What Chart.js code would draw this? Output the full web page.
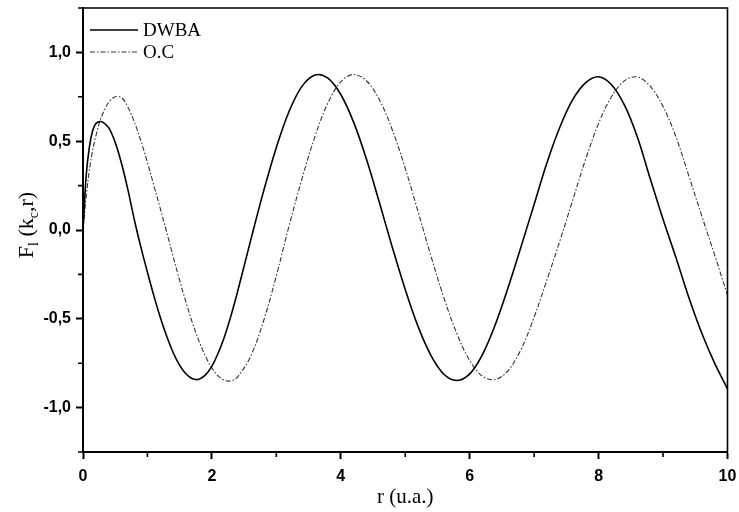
<!DOCTYPE html>
<html>
<head>
<meta charset="utf-8">
<script src="https://cdn.jsdelivr.net/npm/chart.js@4.4.0/dist/chart.umd.min.js"></script>
<style>
  html, body { margin: 0; padding: 0; background: #ffffff; }
  #wrap { width: 739px; height: 512px; }
</style>
</head>
<body>
<div id="wrap"><canvas id="c" width="739" height="512"></canvas></div>
<script>
// ---- Data ----
const rValues = [0, 0.05, 0.1, 0.15, 0.2, 0.25, 0.3, 0.4, 0.5, 0.6, 0.7, 0.8, 0.9, 1.0,
  1.1, 1.2, 1.3, 1.4, 1.5, 1.6, 1.7, 1.8, 1.9, 2.0, 2.1, 2.2, 2.3, 2.4, 2.6, 2.8, 3.0,
  3.2, 3.4, 3.6, 3.8, 4.0, 4.2, 4.4, 4.6, 4.8, 5.0, 5.2, 5.4, 5.6, 5.8, 6.0, 6.2, 6.4,
  6.6, 6.8, 7.0, 7.2, 7.4, 7.6, 7.8, 8.0, 8.2, 8.4, 8.6, 8.8, 9.0, 9.2, 9.4, 9.6, 9.8, 10.0];

const dwbaValues = [0, 0.31, 0.47, 0.56, 0.60, 0.61, 0.609, 0.575, 0.493, 0.372, 0.222, 0.052, -0.099, -0.238,
  -0.371, -0.493, -0.600, -0.691, -0.762, -0.811, -0.838, -0.840, -0.816, -0.766, -0.691, -0.595, -0.478, -0.345, -0.060, 0.216, 0.465,
  0.670, 0.810, 0.873, 0.855, 0.763, 0.606, 0.397, 0.153, -0.098, -0.335, -0.544, -0.707, -0.812, -0.847, -0.81, -0.70, -0.53,
  -0.32, -0.09, 0.145, 0.38, 0.58, 0.735, 0.83, 0.863, 0.818, 0.704, 0.525, 0.29, 0.06, -0.155, -0.38, -0.58, -0.75, -0.894];

const ocValues = [0, 0.19, 0.34, 0.45, 0.53, 0.60, 0.65, 0.72, 0.75, 0.745, 0.69, 0.605, 0.50, 0.38,
  0.25, 0.12, -0.014, -0.151, -0.284, -0.409, -0.525, -0.626, -0.711, -0.777, -0.823, -0.847, -0.849, -0.827, -0.712, -0.514, -0.258,
  0.027, 0.291, 0.528, 0.715, 0.835, 0.876, 0.839, 0.732, 0.563, 0.347, 0.102, -0.148, -0.382, -0.583, -0.735, -0.824, -0.842,
  -0.79, -0.67, -0.49, -0.28, -0.06, 0.17, 0.40, 0.60, 0.75, 0.84, 0.862, 0.81, 0.695, 0.525, 0.305, 0.08, -0.14, -0.367];

const seriesLabels = ["DWBA", "O.C"];
const xTickValues = [0, 2, 4, 6, 8, 10];
const xMinorTicks = [1, 3, 5, 7, 9];
const yTickValues = [-1.0, -0.5, 0.0, 0.5, 1.0];
const yMinorTicks = [-1.25, -0.75, -0.25, 0.25, 0.75, 1.25];
const xTitle = "r (u.a.)";

// ---- Chart ----
const PLOT_LEFT = 83, PLOT_RIGHT = 727.5, PLOT_TOP = 8, PLOT_BOTTOM = 452;

const decor = {
  id: 'decor',
  afterDraw(chart) {
    const ctx = chart.ctx;
    const a = chart.chartArea;
    const xs = chart.scales.x, ys = chart.scales.y;
    ctx.save();
    // top and right frame
    ctx.strokeStyle = '#000';
    ctx.lineWidth = 1.6;
    ctx.beginPath();
    ctx.moveTo(a.left - 1, a.top);
    ctx.lineTo(a.right, a.top);
    ctx.lineTo(a.right, a.bottom);
    ctx.stroke();
    // minor ticks
    ctx.lineWidth = 1.6;
    ctx.beginPath();
    xMinorTicks.forEach(v => {
      const px = xs.getPixelForValue(v);
      ctx.moveTo(px, a.bottom);
      ctx.lineTo(px, a.bottom + 5);
    });
    yMinorTicks.forEach(v => {
      const py = ys.getPixelForValue(v);
      ctx.moveTo(a.left, py);
      ctx.lineTo(a.left - 5, py);
    });
    ctx.stroke();

    // y-axis title F_l (k_c,r), rotated
    ctx.translate(25, 225);
    ctx.rotate(-Math.PI / 2);
    ctx.fillStyle = '#000';
    ctx.textBaseline = 'alphabetic';
    const big = '22px "Liberation Serif", "Times New Roman", serif';
    const small = '14px "Liberation Serif", "Times New Roman", serif';
    const parts = [
      { t: 'F', f: big, dy: 0 },
      { t: 'l', f: small, dy: 5 },
      { t: ' (k', f: big, dy: 0 },
      { t: 'c', f: small, dy: 5 },
      { t: ',r)', f: big, dy: 0 }
    ];
    let total = 0;
    parts.forEach(p => { ctx.font = p.f; p.w = ctx.measureText(p.t).width; total += p.w; });
    let x0 = -total / 2;
    parts.forEach(p => { ctx.font = p.f; ctx.fillText(p.t, x0, 8 + p.dy); x0 += p.w; });
    ctx.restore();

    // legend inside plot, top-left
    ctx.save();
    const ds = chart.data.datasets;
    const rows = [a.top + 22, a.top + 44];
    ds.forEach((d, i) => {
      ctx.strokeStyle = d.borderColor;
      ctx.lineWidth = d.borderWidth;
      ctx.setLineDash(d.borderDash || []);
      ctx.beginPath();
      ctx.moveTo(90, rows[i]);
      ctx.lineTo(138, rows[i]);
      ctx.stroke();
      ctx.setLineDash([]);
      ctx.fillStyle = '#000';
      ctx.font = '19px "Liberation Serif", "Times New Roman", serif';
      ctx.textBaseline = 'middle';
      ctx.fillText(d.label, 143, rows[i] + 1);
    });
    ctx.restore();
  }
};

new Chart(document.getElementById('c'), {
  type: 'line',
  data: {
    datasets: [
      {
        label: seriesLabels[0],
        data: rValues.map((r, i) => ({ x: r, y: dwbaValues[i] })),
        borderColor: '#000000',
        borderWidth: 1.6,
        pointRadius: 0,
        tension: 0.35,
        fill: false
      },
      {
        label: seriesLabels[1],
        data: rValues.map((r, i) => ({ x: r, y: ocValues[i] })),
        borderColor: '#333333',
        borderWidth: 1.1,
        borderDash: [5, 2, 1.5, 2],
        pointRadius: 0,
        tension: 0.35,
        fill: false
      }
    ]
  },
  options: {
    responsive: false,
    animation: false,
    devicePixelRatio: 1,
    layout: { padding: { left: 0, right: 739 - PLOT_RIGHT, top: PLOT_TOP, bottom: 0 } },
    plugins: {
      legend: { display: false },
      tooltip: { enabled: false }
    },
    scales: {
      x: {
        type: 'linear',
        min: 0, max: 10,
        afterBuildTicks: s => { s.ticks = xTickValues.map(v => ({ value: v })); },
        afterFit: s => { s.height = 512 - PLOT_BOTTOM; s.paddingLeft = 0; s.paddingRight = 0; },
        border: { display: true, color: '#000', width: 2 },
        grid: { drawOnChartArea: false, drawTicks: true, tickLength: 7, tickWidth: 2, tickColor: '#000' },
        ticks: {
          color: '#000',
          padding: 8,
          maxRotation: 0,
          font: { family: '"Liberation Sans", Arial, sans-serif', size: 16, weight: 'bold' },
          callback: v => String(v)
        },
        title: {
          display: true,
          text: xTitle,
          color: '#000',
          padding: { top: 0, bottom: 2 },
          font: { family: '"Liberation Serif", "Times New Roman", serif', size: 21 }
        }
      },
      y: {
        type: 'linear',
        min: -1.25, max: 1.25,
        afterBuildTicks: s => { s.ticks = yTickValues.map(v => ({ value: v })); },
        afterFit: s => { s.width = PLOT_LEFT; s.paddingTop = 0; s.paddingBottom = 0; },
        border: { display: true, color: '#000', width: 2 },
        grid: { drawOnChartArea: false, drawTicks: true, tickLength: 7, tickWidth: 2, tickColor: '#000' },
        ticks: {
          color: '#000',
          padding: 5,
          font: { family: '"Liberation Sans", Arial, sans-serif', size: 16, weight: 'bold' },
          callback: v => v.toFixed(1).replace('.', ',')
        }
      }
    }
  },
  plugins: [decor]
});
</script>
</body>
</html>
